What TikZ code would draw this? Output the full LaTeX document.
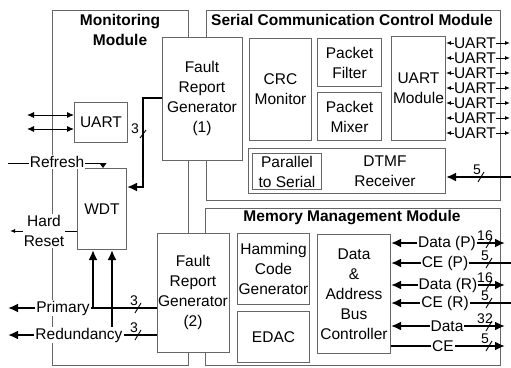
\documentclass[tikz,border=0pt]{standalone}
\usepackage{fontspec}
\setmainfont{Liberation Sans}
\usetikzlibrary{arrows.meta}
\newcommand\buslbl[4]{%
  \draw[thinl] ({#2-3},{#3+5}) -- ({#2+3},{#3-5});
  \node[num, anchor=south] (#1) at ({#2-4},{#3-2}) {#4};}
\begin{document}
\begin{tikzpicture}[x=1pt,y=-1pt,
  txt/.style={font=\fontsize{15.5}{20}\selectfont},
  ttl/.style={font=\bfseries\fontsize{15.5}{20}\selectfont, align=center, inner sep=0pt},
  num/.style={font=\fontsize{14}{14}\selectfont, inner sep=0pt},
  modbox/.style={draw=black!60, line width=1pt, fill=white, anchor=north west, inner sep=0pt},
  box/.style={draw=black!60, line width=1pt, fill=white, anchor=north west, inner sep=0pt, align=center, txt},
  lbl/.style={fill=white, inner sep=1pt, align=center, txt},
  thinl/.style={line width=0.9pt, black},
  bus/.style={line width=2.8pt, black},
  bigtip/.tip={Latex[length=10pt,width=9pt]},
  midtip/.tip={Latex[length=7pt,width=6pt]},
  smtip/.tip={Latex[length=5pt,width=4pt]},
]
\useasboundingbox (0,0) rectangle (511,367);

% modules
\node[modbox, minimum width=136pt, minimum height=355pt] (mon) at (52,10) {};
\node[modbox, minimum width=294pt, minimum height=190pt] (ser) at (206,10) {};
\node[modbox, minimum width=295pt, minimum height=157pt] (mem) at (205,208) {};
\node[ttl] (montitle) at (120,30) {Monitoring\\Module};
\node[ttl] (sertitle) at (352,20) {Serial Communication Control Module};
\node[ttl] (memtitle) at (352,218) {Memory Management Module};

% monitoring module content
\node[box, minimum width=80pt, minimum height=123pt] (frg1) at (162,37) {};
\node[txt, align=center, inner sep=0pt] (frg1t) at (202,98) {Fault\\Report\\Generator\\(1)};
\node[box, minimum width=72pt, minimum height=119pt] (frg2) at (157,233) {};
\node[txt, align=center, inner sep=0pt] (frg2t) at (193,292) {Fault\\Report\\Generator\\(2)};
\node[box, minimum width=53pt, minimum height=40pt] (uart) at (74,102) {UART};
\node[box, minimum width=49pt, minimum height=81pt] (wdt) at (77,168) {WDT};

% serial module content
\node[box, minimum width=62pt, minimum height=102pt] (crc) at (249,38) {CRC\\Monitor};
\node[box, minimum width=64pt, minimum height=48pt] (pf) at (317,38) {Packet\\Filter};
\node[box, minimum width=64pt, minimum height=48pt] (pm) at (317,92) {Packet\\Mixer};
\node[box, minimum width=54pt, minimum height=104pt] (um) at (391,36) {UART\\Module};
\node[box, minimum width=197pt, minimum height=45pt] (dtmf) at (248,148) {};
\node[txt, align=center, inner sep=0pt] (dtmft) at (385,171) {DTMF\\Receiver};
\node[box, minimum width=69pt, minimum height=36pt] (p2s) at (252,153) {Parallel\\to Serial};

% memory module content
\node[box, minimum width=72pt, minimum height=71pt] (ham) at (237,233) {Hamming\\Code\\Generator};
\node[box, minimum width=72pt, minimum height=51pt] (edac) at (237,311) {EDAC};
\node[box, minimum width=73pt, minimum height=119pt] (dabc) at (317,234) {Data\\\&\\Address\\Bus\\Controller};

% ---------- monitoring connectors
\coordinate (ua) at (27,115);
\coordinate (ub) at (27,129);
\draw[thinl, midtip-midtip] (ua) -- (uart.west |- ua);
\draw[thinl, midtip-midtip] (ub) -- (uart.west |- ub);

\coordinate (b1) at (143,98);
\coordinate (b2) at (143,187);
\draw[bus, -bigtip] (frg1.west |- b1) -- (b1) -- (b2) -- (wdt.east |- b2);
\draw[thinl] (140,138) -- (146,130);
\node[num] (n3a) at (135,129) {3};

\coordinate (rf0) at (8,163);
\coordinate (rf1) at (103,163);
\draw[thinl, -{Triangle[length=5pt,width=7pt]}] (rf0) -- (rf1) -- (rf1 |- wdt.north);

\coordinate (hr) at (10,231);
\draw[thinl, -smtip] (wdt.west |- hr) -- (hr);

\coordinate (pr) at (8,308);
\coordinate (rd) at (8,335);
\draw[bus, -bigtip] (frg2.west |- pr) -- (pr);
\draw[bus, -bigtip] (frg2.west |- rd) -- (rd);
\coordinate (wa) at (93,308);
\coordinate (wb) at (112,335);
\draw[bus, -bigtip] (wa) -- (wa |- wdt.south);
\draw[bus, -bigtip] (wb) -- (wb |- wdt.south);
\buslbl{n3b}{138}{308}{3}
\buslbl{n3c}{138}{335}{3}

\node[lbl] (refresh) at (57,162) {Refresh};
\node[lbl] (hard) at (44,231) {Hard\\Reset};
\node[lbl] (prim) at (63,308) {Primary};
\node[lbl] (red) at (79,335) {Redundancy};

% ---------- serial connectors
\foreach \i in {0,...,6} {
  \coordinate (ur\i) at (510,{43+15*\i});
  \draw[thinl, smtip-smtip] (um.east |- ur\i) -- (ur\i);
  \node[lbl, inner sep=0pt] (ul\i) at (475,{43+15*\i}) {UART};
}
\coordinate (dt) at (511,177);
\draw[bus, -bigtip] (dt) -- (dtmf.east |- dt);
\buslbl{n5a}{481}{177}{5}

% ---------- memory connectors
\coordinate (m1) at (505,243);
\coordinate (m2) at (511,263);
\coordinate (m3) at (505,285);
\coordinate (m4) at (511,303);
\coordinate (m5) at (505,326);
\coordinate (m6) at (505,346);
\draw[bus, bigtip-bigtip] (dabc.east |- m1) -- (m1);
\draw[bus, bigtip-] (dabc.east |- m2) -- (m2);
\draw[bus, bigtip-bigtip] (dabc.east |- m3) -- (m3);
\draw[bus, bigtip-] (dabc.east |- m4) -- (m4);
\draw[bus, bigtip-bigtip] (dabc.east |- m5) -- (m5);
\draw[bus, -bigtip] (dabc.east |- m6) -- (m6);
\buslbl{n16a}{489}{243}{16}
\buslbl{n5b}{489}{263}{5}
\buslbl{n16b}{489}{285}{16}
\buslbl{n5c}{489}{303}{5}
\buslbl{n32}{489}{326}{32}
\buslbl{n5d}{489}{346}{5}
\node[lbl] (dp) at (447,243) {Data (P)};
\node[lbl] (cep) at (445,263) {CE (P)};
\node[lbl] (dr) at (448,285) {Data (R)};
\node[lbl] (cer) at (445,303) {CE (R)};
\node[lbl] (dd) at (447,326) {Data};
\node[lbl] (ce) at (443,346) {CE};
\end{tikzpicture}
\end{document}
